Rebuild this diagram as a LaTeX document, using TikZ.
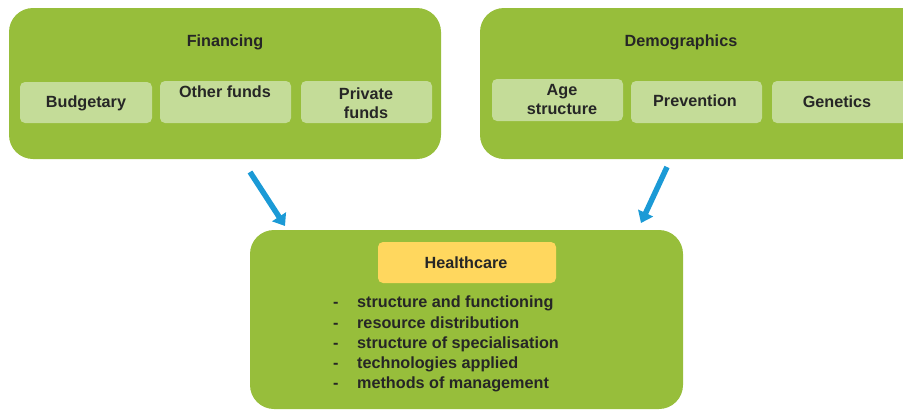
\documentclass[tikz,border=0pt]{standalone}
\usepackage{fontspec}
\setmainfont{Liberation Sans}
\usetikzlibrary{arrows.meta}
\definecolor{grn}{HTML}{97BE3B}
\definecolor{lgrn}{HTML}{C4DC98}
\definecolor{ylw}{HTML}{FFD75E}
\definecolor{blu}{HTML}{1B9AD6}
\begin{document}
\begin{tikzpicture}[x=1pt,y=-1pt,
  bigbox/.style={fill=grn,draw=none,rounded corners=24pt},
  subbox/.style={fill=lgrn,draw=none,rounded corners=5pt},
  lbl/.style={font=\bfseries\fontsize{16.2pt}{19pt}\selectfont,align=center,text=black!85},
  arr/.style={draw=blu,line width=5.5pt,-{Triangle[length=11pt,width=16pt]}}]
\useasboundingbox (0,0) rectangle (903,410);
% top boxes
\path[bigbox] (9,8) rectangle (441,159);
\path[bigbox] (480,8) rectangle (925,159);
\node[lbl] (fin) at (225,42) {Financing};
\node[lbl] (dem) at (681,42) {Demographics};
\path[subbox] (20,82) rectangle (152,123);
\path[subbox] (160,81) rectangle (291,123);
\path[subbox] (301,81) rectangle (432,123);
\path[subbox] (492,79) rectangle (623,121);
\path[subbox] (631,81) rectangle (762,123);
\path[subbox] (772,81) rectangle (915,123);
\node[lbl] (bud) at (86,103) {Budgetary};
\node[lbl] (oth) at (225,92) {Other funds};
\node[lbl] (pri) at (366,103) {Private\\funds};
\node[lbl] (age) at (562,100) {Age\\structure};
\node[lbl] (pre) at (695,101) {Prevention};
\node[lbl] (gen) at (837,102) {Genetics};
% bottom box
\path[bigbox] (250,230) rectangle (683,409);
\path[subbox,fill=ylw] (378,242) rectangle (556,283);
\node[lbl] (hc) at (466,263) {Healthcare};
\node[lbl,align=left,anchor=north west,inner sep=0pt,font=\bfseries\fontsize{16.2pt}{20.2pt}\selectfont] (list) at (333,296) {%
\makebox[24pt][l]{-}structure and functioning\\
\makebox[24pt][l]{-}resource distribution\\
\makebox[24pt][l]{-}structure of specialisation\\
\makebox[24pt][l]{-}technologies applied\\
\makebox[24pt][l]{-}methods of management};
\coordinate (a1) at (250,172);
\coordinate (a2) at (285,226);
\coordinate (b1) at (667,167);
\coordinate (b2) at (641,223);
\draw[arr] (a1) -- (a2);
\draw[arr] (b1) -- (b2);
\end{tikzpicture}
\end{document}
